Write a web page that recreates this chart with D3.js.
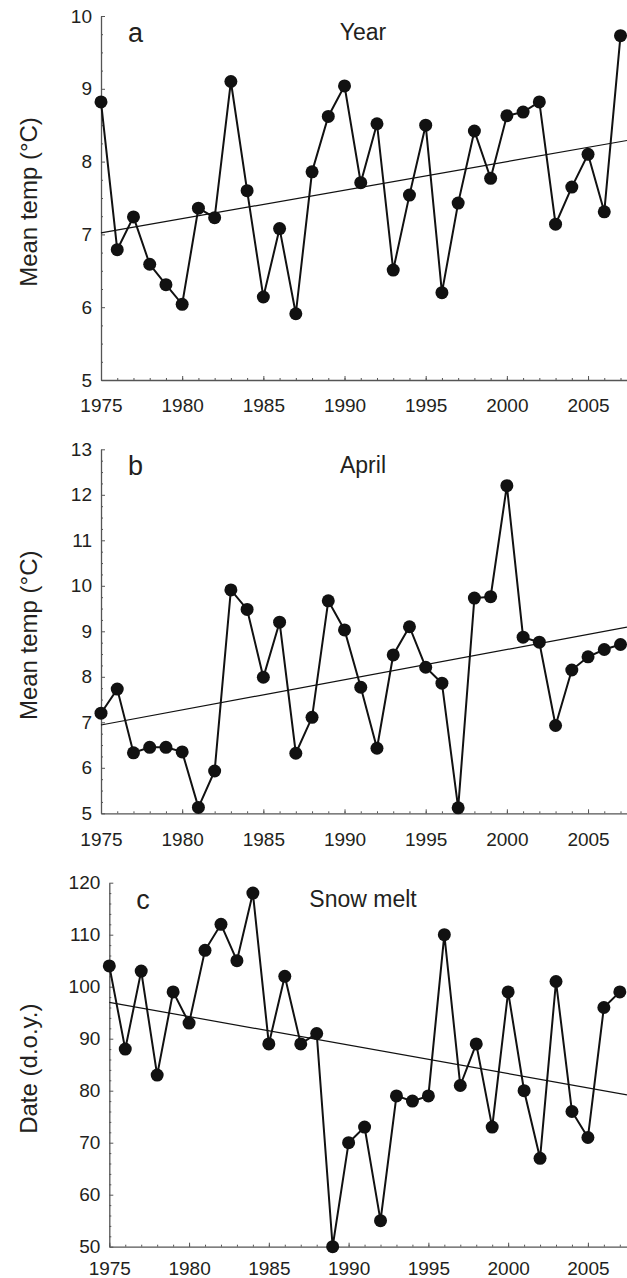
<!DOCTYPE html>
<meta charset="utf-8">
<script src="https://d3js.org/d3.v7.min.js"></script>
<style>
  body { margin: 0; background: #fff; }
  text { font-family: "Liberation Sans", Arial, Helvetica, sans-serif; fill: #231f20; }
</style>
<svg id="chart" width="627" height="1278"></svg>
<script>
// years shared by all three panels
var years = d3.range(1975, 2008);

// a: yearly mean temperature
var yearTemp = [8.82, 6.79, 7.24, 6.59, 6.31, 6.04, 7.36, 7.23, 9.10, 7.60,
                6.14, 7.08, 5.91, 7.86, 8.62, 9.04, 7.71, 8.52, 6.51, 7.54,
                8.50, 6.20, 7.43, 8.42, 7.77, 8.63, 8.68, 8.82, 7.14, 7.65,
                8.10, 7.31, 9.73];
var yearTrend = [7.02, 8.29];

// b: April mean temperature
var aprilTemp = [7.20, 7.73, 6.33, 6.45, 6.45, 6.35, 5.13, 5.93, 9.91, 9.48,
                 7.99, 9.20, 6.32, 7.11, 9.67, 9.03, 7.77, 6.43, 8.48, 9.10,
                 8.21, 7.86, 5.12, 9.73, 9.76, 12.20, 8.87, 8.76, 6.93, 8.15,
                 8.44, 8.60, 8.71];
var aprilTrend = [6.94, 9.09];

// c: snow melt date (day of year)
var snowMelt = [104, 88, 103, 83, 99, 93, 107, 112, 105, 118,
                89, 102, 89, 91, 50, 70, 73, 55, 79, 78,
                79, 110, 81, 89, 73, 99, 80, 67, 101, 76,
                71, 96, 99];
var snowTrend = [97, 79.2];

var xTicks = [1975, 1980, 1985, 1990, 1995, 2000, 2005];

var svg = d3.select("#chart");

var panels = [
  {letter: "a", title: "Year", ylab: "Mean temp (\u00B0C)", values: yearTemp, trend: yearTrend,
   yDomain: [5, 10], yTicks: d3.range(5, 11, 1), yMinor: 0.25,
   left: 101, top: 16, bottom: 380, xEnd: 2007.4, labPad: 19},
  {letter: "b", title: "April", ylab: "Mean temp (\u00B0C)", values: aprilTemp, trend: aprilTrend,
   yDomain: [5, 13], yTicks: d3.range(5, 14, 1), yMinor: 0.25,
   left: 101, top: 449.3, bottom: 813.3, xEnd: 2007.4, labPad: 19},
  {letter: "c", title: "Snow melt", ylab: "Date (d.o.y.)", values: snowMelt, trend: snowTrend,
   yDomain: [50, 120], yTicks: d3.range(50, 121, 10), yMinor: 2,
   left: 109.3, top: 882.7, bottom: 1246.7, xEnd: 2007.45, labPad: 15}
];

panels.forEach(function(p) {
  var g = svg.append("g");

  var x = d3.scaleLinear().domain([1975, p.xEnd]).range([p.left, 627]);
  var y = d3.scaleLinear().domain(p.yDomain).range([p.bottom, p.top]);

  // minor ticks
  var yMinors = d3.range(p.yDomain[0], p.yDomain[1] + 1e-9, p.yMinor)
    .filter(function(v) { return p.yTicks.indexOf(Math.round(v * 1000) / 1000) < 0; });

  g.append("g")
    .attr("transform", "translate(0," + p.bottom + ")")
    .call(d3.axisBottom(x).tickValues(years).tickSizeInner(-2).tickSizeOuter(0).tickFormat(""))
    .call(function(a) { a.select(".domain").remove(); });

  g.append("g")
    .attr("transform", "translate(" + p.left + ",0)")
    .call(d3.axisLeft(y).tickValues(yMinors).tickSizeInner(-2).tickSizeOuter(0).tickFormat(""))
    .call(function(a) { a.select(".domain").remove(); });

  // major axes
  var xAxis = g.append("g")
    .attr("transform", "translate(0," + p.bottom + ")")
    .call(d3.axisBottom(x).tickValues(xTicks).tickSizeInner(-4).tickSizeOuter(0)
      .tickPadding(p.labPad).tickFormat(d3.format("d")));

  var yAxis = g.append("g")
    .attr("transform", "translate(" + p.left + ",0)")
    .call(d3.axisLeft(y).tickValues(p.yTicks).tickSizeInner(-4).tickSizeOuter(0)
      .tickPadding(9).tickFormat(d3.format("d")));

  g.selectAll(".tick line").attr("stroke", "#555").attr("stroke-width", 1);
  g.selectAll(".domain").attr("stroke", "#555").attr("stroke-width", 1.3);
  g.selectAll(".tick text").attr("font-size", 19).attr("fill", "#231f20")
    .style("font-family", "'Liberation Sans', Arial, sans-serif");

  // trend line
  g.append("line")
    .attr("x1", x(1975)).attr("y1", y(p.trend[0]))
    .attr("x2", x(p.xEnd)).attr("y2", y(p.trend[1]))
    .attr("stroke", "#111").attr("stroke-width", 1.2);

  // data line
  var line = d3.line()
    .x(function(d, i) { return x(years[i]); })
    .y(function(d) { return y(d); });

  g.append("path")
    .datum(p.values)
    .attr("d", line)
    .attr("fill", "none")
    .attr("stroke", "#111")
    .attr("stroke-width", 2);

  g.selectAll("circle")
    .data(p.values)
    .enter()
    .append("circle")
      .attr("cx", function(d, i) { return x(years[i]); })
      .attr("cy", function(d) { return y(d); })
      .attr("r", 6.5)
      .attr("fill", "#111");

  // labels
  g.append("text")
    .attr("x", p.left + 27)
    .attr("y", p.top + 26)
    .attr("font-size", 27)
    .text(p.letter);

  g.append("text")
    .attr("x", 363)
    .attr("y", p.top + 24)
    .attr("text-anchor", "middle")
    .attr("font-size", 23)
    .text(p.title);

  g.append("text")
    .attr("transform", "translate(37," + ((p.top + p.bottom) / 2 + 4) + ") rotate(-90)")
    .attr("text-anchor", "middle")
    .attr("font-size", 24)
    .text(p.ylab);
});
</script>
